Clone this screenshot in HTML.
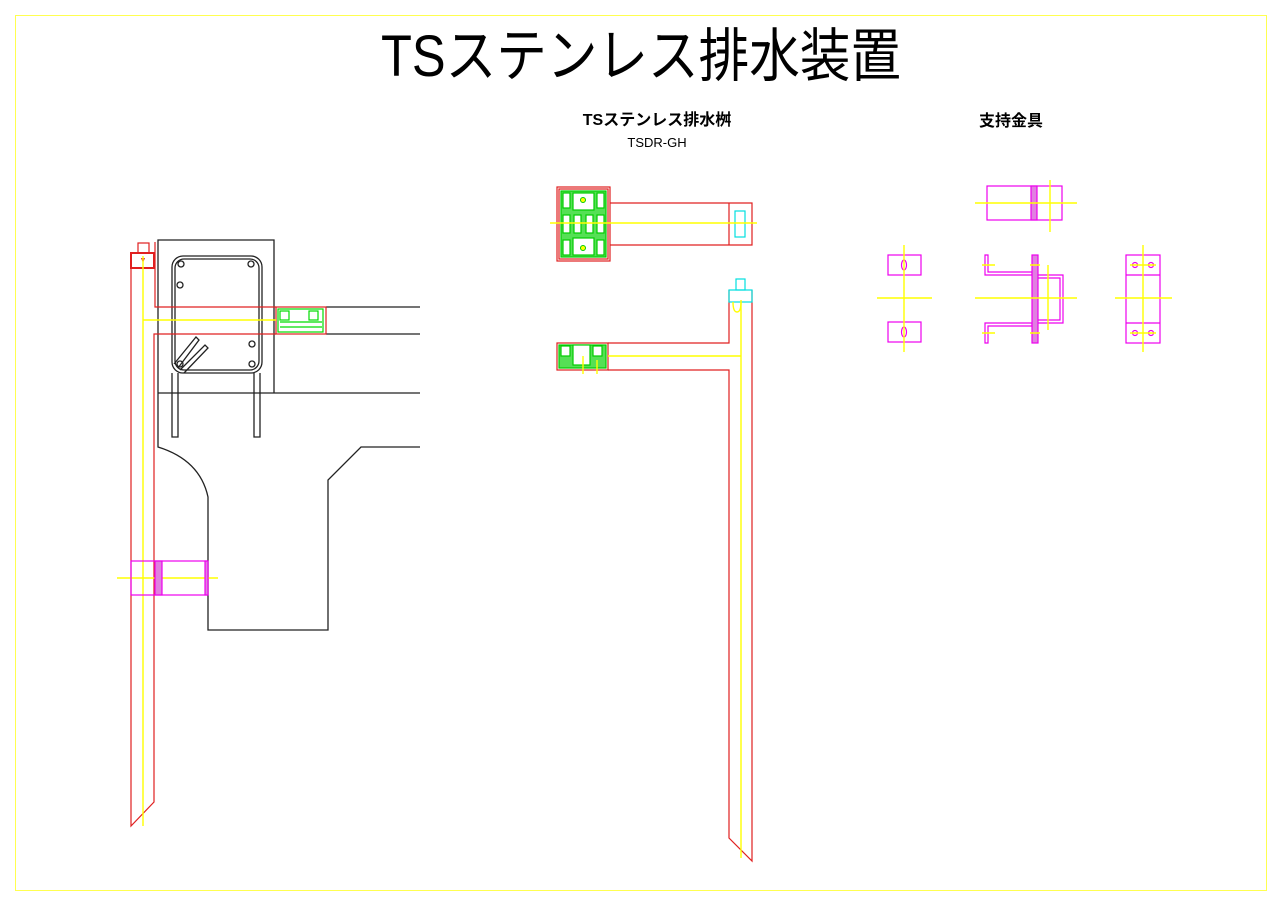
<!DOCTYPE html>
<html><head><meta charset="utf-8"><style>
html,body{margin:0;padding:0;background:#fff;}
svg{display:block;}
text{font-family:"Liberation Sans","Noto Sans CJK JP",sans-serif;fill:#000;}
</style></head><body>
<svg width="1280" height="905" viewBox="0 0 1280 905" xmlns="http://www.w3.org/2000/svg" fill="none">
<rect x="15.5" y="15.5" width="1251" height="875" stroke="#ffff50" stroke-width="1"/>
<text x="641" y="76" font-size="58" text-anchor="middle" textLength="520" lengthAdjust="spacingAndGlyphs">TSステンレス排水装置</text>
<text x="657" y="125" font-size="16" font-weight="bold" text-anchor="middle">TSステンレス排水桝</text>
<text x="657" y="147" font-size="13" text-anchor="middle">TSDR-GH</text>
<text x="1011" y="126" font-size="16" font-weight="bold" text-anchor="middle">支持金具</text>

<!-- black structure -->
<g stroke="#222" stroke-width="1.3">
<path d="M158 393 V240 H274 V393"/>
<path d="M158 393 H420"/>
<path d="M326 307 H420 M326 334 H420"/>
<path d="M158 393 V447 Q200 460 208 497 V630 H328 V480 L361 447 H420"/>
<rect x="172" y="256" width="90" height="117" rx="11"/>
<rect x="175" y="259" width="84" height="111" rx="9"/>
<path d="M172 373 V437 H178 V373 M254 373 V437 H260 V373"/>
<circle cx="181" cy="264" r="3"/><circle cx="251" cy="264" r="3"/><circle cx="180" cy="285" r="3"/>
<circle cx="252" cy="344" r="3"/><circle cx="252" cy="364" r="3"/><circle cx="180" cy="364" r="3"/>
<path d="M174 364 L196 337 L199 340 L178 368 M180 370 L205 345 L208 348 L184 373"/>
</g>

<!-- left red pipe -->
<g stroke="#e02020" stroke-width="1.2">
<path d="M131 268 V826 L154 802 V334 H276"/>
<path d="M155 242 V307 H276"/>
<rect x="131" y="253" width="23" height="15" stroke-width="2"/>
<rect x="138" y="243" width="11" height="10"/>
<rect x="276" y="307" width="50" height="27"/>
</g>
<path d="M141 258 L143 263 L145 258 Z" fill="#e02020"/>
<g stroke="#00dd00" stroke-width="1.2">
<rect x="278" y="309" width="45" height="23"/>
<rect x="280" y="311" width="9" height="9"/><rect x="309" y="311" width="9" height="9"/>
<path d="M280 322 H322 M280 327 H322"/>
</g>
<g stroke="#ffff00" stroke-width="1.4">
<path d="M143 256 V826"/>
<path d="M143 320 H276"/>
<path d="M117 578 H218"/>
</g>
<g stroke="#ee00ee" stroke-width="1.2">
<rect x="131" y="561" width="76" height="34"/>
<rect x="155" y="561" width="7" height="34" fill="#e080e0"/>
<rect x="205" y="561" width="3" height="34" fill="#e080e0"/>
</g>

<!-- middle top view -->
<g stroke="#e02020" stroke-width="1.2">
<rect x="557" y="187" width="53" height="74"/>
<rect x="559" y="189" width="49" height="70"/>
<path d="M610 203 H752 V245 H610 M729 203 V245"/>
</g>
<g stroke="#00cc00" stroke-width="1.2">
<rect x="561" y="191" width="45" height="66" fill="#55e055"/>
<rect x="573" y="193" width="21" height="17" fill="#fff"/>
<rect x="573" y="238" width="21" height="17" fill="#fff"/>
<rect x="574" y="215" width="7" height="18" fill="#fff"/><rect x="586" y="215" width="7" height="18" fill="#fff"/>
<rect x="563" y="215" width="7" height="18" fill="#fff"/><rect x="597" y="215" width="7" height="18" fill="#fff"/>
<rect x="563" y="193" width="7" height="15" fill="#fff"/><rect x="597" y="193" width="7" height="15" fill="#fff"/>
<rect x="563" y="240" width="7" height="15" fill="#fff"/><rect x="597" y="240" width="7" height="15" fill="#fff"/>
</g>
<circle cx="583" cy="200" r="2.5" fill="#ff0" stroke="#0c0"/><circle cx="583" cy="248" r="2.5" fill="#ff0" stroke="#0c0"/>
<rect x="735" y="211" width="10" height="26" stroke="#00e0e0" stroke-width="1.2"/>
<path d="M550 223 H757" stroke="#ffff00" stroke-width="1.4"/>

<!-- middle side view -->
<g stroke="#e02020" stroke-width="1.2">
<rect x="557" y="343" width="51" height="27"/>
<path d="M608 343 H729 V290 M608 370 H729 V838 L752 861 V290"/>
</g>
<g stroke="#00cc00" stroke-width="1.2">
<rect x="559" y="345" width="47" height="23" fill="#55e055"/>
<rect x="573" y="345" width="17" height="20" fill="#fff"/>
<rect x="561" y="346" width="9" height="10" fill="#fff"/><rect x="593" y="346" width="9" height="10" fill="#fff"/>
</g>
<g stroke="#00e0e0" stroke-width="1.2">
<rect x="729" y="290" width="23" height="12"/>
<rect x="736" y="279" width="9" height="11"/>
</g>
<g stroke="#ffff00" stroke-width="1.4">
<path d="M608 356 H741 M741 300 V858"/>
<path d="M733 302 Q733 312 737 312 Q741 312 741 302"/>
<path d="M583 356 V374 M597 360 V374"/>
</g>

<!-- support brackets -->
<g stroke="#ee00ee" stroke-width="1.2">
<rect x="987" y="186" width="75" height="34"/>
<rect x="1031" y="186" width="6" height="34" fill="#e080e0"/>
<rect x="888" y="255" width="33" height="20"/><rect x="888" y="322" width="33" height="20"/>
<ellipse cx="904" cy="265" rx="2.5" ry="5"/><ellipse cx="904" cy="332" rx="2.5" ry="5"/>
<path d="M985 255 H988 V272 H1032 V275 H985 Z M985 343 H988 V326 H1032 V323 H985 Z"/>
<rect x="1032" y="255" width="6" height="88" fill="#e080e0"/>
<path d="M1038 275 H1063 V323 H1038 M1038 278 H1060 V320 H1038"/>
<rect x="1126" y="255" width="34" height="88"/>
<path d="M1126 275 H1160 M1126 323 H1160"/>
<circle cx="1135" cy="265" r="2.5"/><circle cx="1151" cy="265" r="2.5"/>
<circle cx="1135" cy="333" r="2.5"/><circle cx="1151" cy="333" r="2.5"/>
</g>
<g stroke="#ffff00" stroke-width="1.4">
<path d="M975 203 H1077 M1050 180 V232"/>
<path d="M904 245 V352 M877 298 H932"/>
<path d="M975 298 H1077 M1048 265 V330 M982 265 H995 M1030 265 H1040 M982 333 H995 M1030 333 H1040"/>
<path d="M1143 245 V352 M1115 298 H1172 M1130 265 H1156 M1130 333 H1156"/>
</g>
</svg>
</body></html>
